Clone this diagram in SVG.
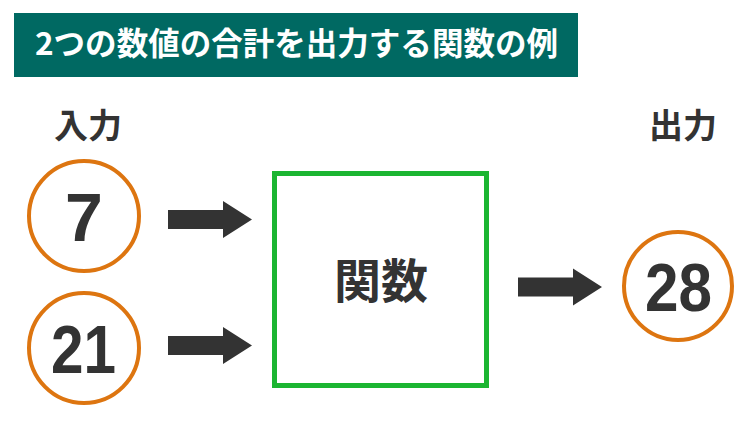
<svg xmlns="http://www.w3.org/2000/svg" width="750" height="422" viewBox="0 0 750 422">
<style>
.cjk{font-family:"Noto Sans CJK JP","Noto Sans",sans-serif;font-weight:bold}
.num{font-family:"Liberation Sans",Arial,sans-serif;font-weight:bold;fill:#333;font-size:68px}
.circ{fill:#fff;stroke:#dd7510;stroke-width:4}
.arrow{fill:#333}
</style>
<defs>
<path id="arr" d="M0,-9.5 H55 V-18.5 L84,0 L55,18.5 V9.5 H0 Z"/>
</defs>
<rect x="0" y="0" width="750" height="422" fill="#fff"/>
<g id="title">
<rect x="14" y="13" width="564" height="64" fill="#006962"/>
<text class="cjk" x="35" y="55" font-size="31.5" fill="#fff" textLength="523" lengthAdjust="spacingAndGlyphs">2つの数値の合計を出力する関数の例</text>
</g>
<g id="label-in"><text class="cjk" x="54" y="138" font-size="34" fill="#333">入力</text></g>
<g id="label-out"><text class="cjk" x="649" y="138" font-size="34" fill="#333">出力</text></g>
<g id="in7">
<circle class="circ" cx="84" cy="216" r="55"/>
<text class="num" x="84" y="241" text-anchor="middle">7</text>
</g>
<g id="in21">
<circle class="circ" cx="84" cy="348" r="55"/>
<text class="num" x="51" y="373" textLength="65" lengthAdjust="spacingAndGlyphs">21</text>
</g>
<g id="func">
<rect x="274.5" y="173.5" width="212" height="212" fill="#fff" stroke="#1bb531" stroke-width="5"/>
<text class="cjk" x="381" y="298" font-size="47" fill="#333" text-anchor="middle">関数</text>
</g>
<g id="out28">
<circle class="circ" cx="678" cy="286" r="54"/>
<text class="num" x="645" y="311" textLength="67" lengthAdjust="spacingAndGlyphs">28</text>
</g>
<g id="connectors" class="arrow">
<use href="#arr" x="168" y="219.5"/>
<use href="#arr" x="168" y="345.5"/>
<use href="#arr" x="518" y="287"/>
</g>
</svg>
